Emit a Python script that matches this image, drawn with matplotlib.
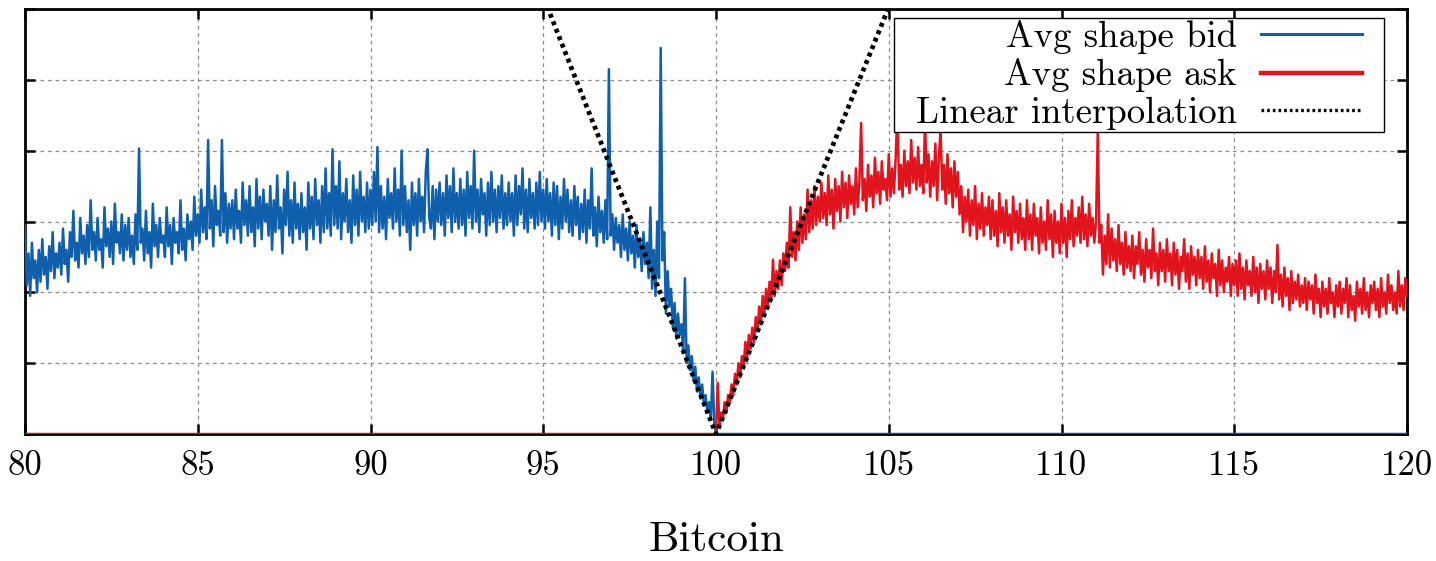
import numpy as np
import matplotlib
matplotlib.use("Agg")
import matplotlib.pyplot as plt
from matplotlib.patches import Rectangle

plt.rcParams["font.family"] = "cmr10"
plt.rcParams["mathtext.fontset"] = "cm"
plt.rcParams["axes.unicode_minus"] = False
plt.rcParams["axes.formatter.use_mathtext"] = True

# Sampling grid of the price axis (relative price, mid = 100), step 0.05
price = np.linspace(80.0, 120.0, 801)

# Average bid-side shape, sampled every 0.05 from 80.00 to 100.00
bid_shape = [
    2.95, 2.1, 2.55, 1.95, 2.7, 2.2, 2.45, 2.0, 2.6, 2.15,
    2.75, 2.25, 2.5, 2.05, 2.65, 2.3, 2.85, 2.2, 2.55, 2.35,
    2.7, 2.25, 2.9, 2.4, 2.6, 2.15, 2.85, 2.5, 3.15, 2.45,
    2.7, 2.35, 3.05, 2.55, 2.8, 2.4, 2.95, 2.5, 3.3, 2.6,
    2.85, 2.45, 3.05, 2.6, 2.75, 2.35, 3.2, 2.65, 2.9, 2.5,
    3.0, 2.4, 3.25, 2.7, 2.85, 2.55, 3.1, 2.45, 2.95, 2.6,
    3.05, 2.5, 2.8, 2.4, 3.1, 2.6, 4.03, 2.7, 2.9, 2.45,
    3.15, 2.55, 2.85, 2.35, 3.25, 2.65, 2.95, 2.5, 3.05, 2.7,
    2.8, 2.5, 3.2, 2.65, 2.95, 2.4, 3.05, 2.7, 2.85, 2.55,
    3.3, 2.6, 2.9, 2.45, 3.1, 2.75, 3.0, 2.6, 3.35, 2.8,
    3.1, 2.7, 3.45, 2.85, 3.2, 2.75, 4.15, 2.9, 3.3, 2.65,
    3.5, 2.95, 3.15, 2.8, 4.15, 2.85, 3.4, 2.7, 3.25, 2.9,
    3.3, 2.75, 3.45, 2.9, 3.15, 2.7, 3.55, 2.95, 3.3, 2.8,
    3.5, 2.85, 3.2, 2.65, 3.6, 2.9, 3.35, 2.75, 3.45, 3.0,
    3.25, 2.8, 3.5, 2.6, 3.3, 2.85, 3.65, 2.9, 3.2, 2.55,
    3.45, 2.95, 3.7, 2.8, 3.3, 2.7, 3.55, 2.9, 3.25, 2.75,
    3.4, 2.85, 3.2, 2.6, 3.55, 2.9, 3.35, 2.75, 3.6, 2.95,
    3.3, 2.7, 3.5, 2.85, 3.75, 2.9, 3.4, 2.8, 4.02, 2.95,
    3.5, 2.9, 3.85, 2.75, 3.4, 3.0, 3.6, 2.85, 3.3, 2.7,
    3.65, 2.95, 3.45, 2.8, 3.7, 3.0, 3.35, 2.85, 3.55, 2.9,
    3.45, 2.95, 3.7, 3.0, 4.05, 2.85, 3.5, 2.9, 3.35, 2.75,
    3.6, 3.05, 3.4, 2.9, 3.75, 3.0, 3.45, 2.8, 4.0, 2.95,
    3.5, 2.85, 3.3, 2.6, 3.55, 2.95, 3.4, 2.8, 3.6, 3.0,
    3.35, 2.85, 3.7, 4.02, 3.05, 2.9, 3.5, 2.75, 3.45, 3.0,
    3.55, 2.95, 3.4, 2.8, 3.65, 3.05, 3.5, 2.85, 3.75, 3.0,
    3.4, 2.9, 3.6, 2.95, 3.45, 2.8, 3.7, 3.05, 3.5, 2.9,
    4.0, 3.0, 3.45, 2.85, 3.6, 3.1, 3.4, 2.8, 3.55, 2.95,
    3.7, 3.0, 3.45, 2.85, 3.5, 3.05, 3.65, 2.9, 3.4, 2.95,
    3.55, 3.0, 3.4, 2.8, 3.65, 2.95, 3.5, 3.1, 3.75, 2.9,
    3.45, 2.85, 3.6, 3.05, 3.4, 2.9, 3.55, 2.95, 3.7, 3.0,
    3.45, 2.9, 3.6, 3.0, 3.4, 2.8, 3.55, 2.95, 3.5, 2.75,
    3.35, 2.9, 3.6, 3.0, 3.45, 2.85, 3.3, 2.8, 3.5, 2.95,
    3.35, 2.75, 3.25, 2.85, 3.45, 2.7, 3.3, 2.9, 3.75, 2.8,
    3.2, 2.65, 3.35, 2.85, 3.15, 2.7, 3.3, 2.75, 5.15, 2.8,
    3.1, 2.6, 3.05, 2.7, 2.95, 2.5, 3.1, 2.6, 2.9, 2.45,
    3.0, 2.55, 2.8, 2.35, 2.95, 2.5, 2.75, 2.3, 2.85, 2.4,
    2.7, 2.2, 3.2, 2.05, 2.6, 1.95, 3.0, 2.2, 5.45, 2.45,
    2.85, 1.7, 2.3, 1.8, 2.05, 1.5, 1.85, 1.35, 1.7, 1.4,
    1.55, 1.15, 2.2, 1.0, 1.25, 0.9, 1.1, 0.75, 0.95, 0.6,
    0.8, 0.5, 0.7, 0.4, 0.55, 0.3, 0.45, 0.2, 0.88, 0.15,
    0.0,
]

# Average ask-side shape, sampled every 0.05 from 100.00 to 120.00
ask_shape = [
    0.0, 0.72, 0.1, 0.3, 0.2, 0.45, 0.3, 0.55, 0.45, 0.7,
    0.55, 0.85, 0.7, 1.0, 0.8, 1.1, 0.95, 1.3, 1.05, 1.4,
    1.2, 1.5, 1.3, 1.65, 1.45, 1.8, 1.55, 1.95, 1.7, 2.05,
    1.8, 2.15, 1.9, 2.46, 1.95, 2.3, 2.05, 2.45, 2.1, 2.55,
    2.3, 2.7, 2.35, 3.2, 2.5, 2.85, 2.45, 3.0, 2.6, 3.2,
    2.7, 3.1, 2.75, 3.45, 2.85, 3.3, 2.9, 3.5, 2.95, 3.35,
    3.0, 3.55, 3.05, 3.4, 2.95, 3.65, 3.1, 3.45, 2.9, 3.6,
    3.15, 3.5, 3.0, 3.7, 3.2, 3.55, 3.05, 3.65, 3.25, 3.5,
    3.1, 3.75, 3.2, 3.55, 4.39, 3.3, 3.6, 3.15, 3.8, 3.35,
    3.65, 3.2, 3.9, 3.4, 3.7, 3.25, 3.85, 3.45, 3.6, 3.3,
    3.95, 3.35, 3.75, 3.4, 3.9, 4.55, 3.45, 3.8, 3.35, 4.0,
    3.5, 3.85, 3.4, 4.15, 3.55, 3.9, 3.45, 4.05, 3.5, 3.8,
    3.4, 4.45, 3.55, 3.95, 3.35, 3.85, 3.5, 4.1, 3.3, 3.9,
    4.3, 3.45, 3.8, 3.25, 3.95, 3.4, 3.75, 3.2, 3.85, 3.35,
    3.7, 3.1, 3.5, 2.85, 3.35, 3.0, 3.45, 2.8, 3.3, 2.95,
    3.5, 2.75, 3.25, 2.9, 3.4, 2.8, 3.2, 2.95, 3.35, 2.75,
    3.3, 2.8, 3.15, 2.65, 3.4, 2.85, 3.2, 2.7, 3.3, 2.8,
    3.1, 2.6, 3.35, 2.85, 3.15, 2.7, 3.25, 2.75, 3.05, 2.6,
    3.3, 2.75, 3.1, 2.6, 3.25, 2.8, 3.05, 2.55, 3.2, 2.7,
    3.0, 2.6, 3.3, 2.75, 3.1, 2.5, 3.15, 2.7, 3.0, 2.55,
    3.25, 2.7, 3.05, 2.5, 3.15, 2.75, 3.3, 2.65, 3.05, 2.8,
    3.2, 2.7, 3.35, 2.75, 3.1, 2.65, 3.25, 2.8, 3.05, 2.7,
    3.0, 4.27, 2.7, 2.95, 2.25, 2.8, 2.4, 3.1, 2.35, 2.9,
    2.45, 2.75, 2.3, 2.95, 2.4, 2.7, 2.25, 2.85, 2.35, 2.65,
    2.3, 2.8, 2.2, 2.65, 2.4, 2.85, 2.25, 2.6, 2.15, 2.75,
    2.35, 2.6, 2.2, 2.9, 2.3, 2.55, 2.1, 2.7, 2.3, 2.6,
    2.15, 2.75, 2.3, 2.55, 2.1, 2.7, 2.25, 2.6, 2.05, 2.5,
    2.3, 2.75, 2.15, 2.55, 2.05, 2.65, 2.25, 2.5, 2.1, 2.6,
    2.2, 2.5, 2.05, 2.65, 2.15, 2.45, 2.0, 2.55, 2.2, 2.4,
    1.95, 2.6, 2.1, 2.45, 2.0, 2.35, 2.15, 2.5, 1.95, 2.4,
    2.1, 2.45, 1.95, 2.55, 2.05, 2.35, 1.9, 2.45, 2.1, 2.3,
    1.95, 2.5, 2.0, 2.35, 1.85, 2.4, 2.05, 2.3, 1.9, 2.45,
    2.05, 2.35, 1.85, 2.3, 2.0, 2.67, 1.9, 2.25, 1.8, 2.35,
    1.95, 2.2, 1.75, 2.3, 1.85, 2.15, 1.9, 2.25, 1.8, 2.1,
    1.85, 2.2, 1.75, 2.15, 1.9, 2.1, 1.7, 2.25, 1.85, 2.05,
    1.65, 2.15, 1.8, 2.05, 1.7, 2.2, 1.85, 2.0, 1.65, 2.1,
    1.8, 2.15, 1.7, 2.05, 1.85, 2.2, 1.65, 2.1, 1.75, 1.95,
    1.6, 2.15, 1.8, 2.05, 1.7, 2.2, 1.75, 2.0, 1.65, 2.1,
    1.85, 2.15, 1.75, 2.05, 1.65, 2.2, 1.8, 2.0, 1.7, 2.25,
    1.85, 2.1, 1.75, 2.0, 1.7, 2.3, 1.8, 2.1, 1.75, 2.2,
    1.95,
]

# Each side is zero on the opposite half of the book
bid_full = bid_shape + [0.0] * 400
ask_full = [0.0] * 400 + ask_shape

# Linear interpolation of the shape around the mid price
mid_price = 100.0
slope_bid = 1.235
slope_ask = 1.205
interp_x = [94.0, mid_price, 106.0]
interp_y = [slope_bid * (mid_price - 94.0), 0.0, slope_ask * (106.0 - mid_price)]

x_ticks = [80, 85, 90, 95, 100, 105, 110, 115, 120]
y_ticks = [0, 1, 2, 3, 4, 5, 6]

BLUE = "#0f5fad"
RED = "#e1141d"

fig = plt.figure(figsize=(14.36, 5.61), dpi=100)
ax = fig.add_axes([25 / 1436, 1 - 434 / 561, (1407 - 25) / 1436, (434 - 9) / 561])

ax.plot(price, bid_full, color=BLUE, lw=1.8, label="Avg shape bid", zorder=3)
ax.plot(price, ask_full, color=RED, lw=1.8, label="Avg shape ask", zorder=3)
ax.plot(interp_x, interp_y, color="black", lw=3.4, linestyle=(0, (0.85, 0.85)),
        label="Linear interpolation", zorder=4)

ax.set_xlim(80, 120)
ax.set_ylim(0, 6)
ax.set_xticks(x_ticks)
ax.set_xticklabels([str(t) for t in x_ticks])
ax.set_yticks(y_ticks)
ax.set_yticklabels([])

ax.grid(True, color="#8c8c8c", lw=0.9, linestyle=(0, (3, 3)))
ax.set_axisbelow(True)
for sp in ax.spines.values():
    sp.set_linewidth(2.0)
    sp.set_zorder(2.5)

ax.tick_params(axis="both", direction="in", length=7, width=1.8,
               top=True, right=True, labelsize=25, pad=12)

ax.set_xlabel("Bitcoin", fontsize=31, labelpad=28)

# Legend: labels right-aligned, handles on the right
leg = ax.legend(loc="upper right", bbox_to_anchor=((1362 - 25) / 1382, (434 - 20) / 425),
                borderaxespad=0, borderpad=0, markerfirst=False, fontsize=26.5,
                frameon=False, handlelength=2.75, handletextpad=0.65,
                labelspacing=0.12)
leg.set_zorder(8)
lines = leg.get_lines()
lines[0].set_linewidth(2.2)
lines[1].set_linewidth(3.2)
lines[2].set_linewidth(2.4)
lines[2].set_linestyle((0, (0.8, 0.9)))

# Rectangular box around the legend, wider padding left/right than top/bottom
fig.canvas.draw()
bb = leg.get_window_extent()
pad_x, pad_top, pad_bottom = 22, 2, 2
to_axes = ax.transAxes.inverted()
(x0, y0) = to_axes.transform((bb.x0 - pad_x, bb.y0 - pad_bottom))
(x1, y1) = to_axes.transform((bb.x1 + pad_x, bb.y1 + pad_top))
box = Rectangle((x0, y0), x1 - x0, y1 - y0, transform=ax.transAxes,
                facecolor="white", edgecolor="black", lw=1.0, zorder=7)
ax.add_patch(box)

fig.savefig("out.png", dpi=100)
